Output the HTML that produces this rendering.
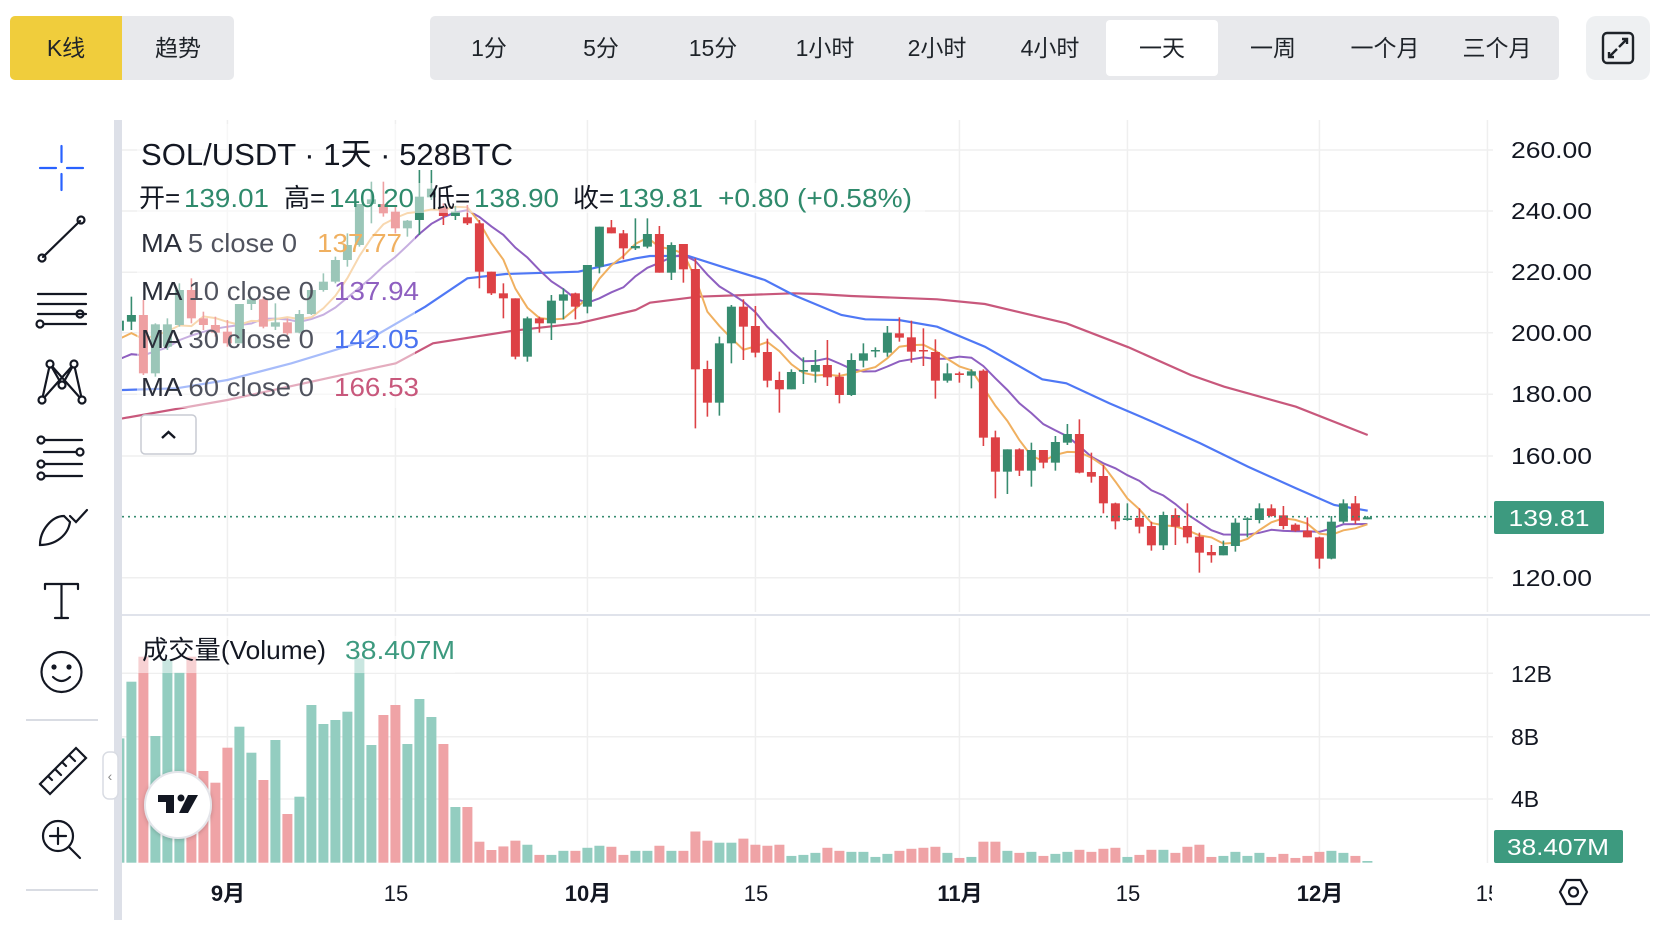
<!DOCTYPE html>
<html><head><meta charset="utf-8">
<style>
html,body{margin:0;padding:0;background:#fff;}
body{width:1666px;height:930px;overflow:hidden;font-family:"Liberation Sans","Noto Sans CJK SC",sans-serif;}
svg text{font-family:"Liberation Sans","Noto Sans CJK SC",sans-serif;}
</style></head>
<body>
<svg id="s" width="1666" height="930" viewBox="0 0 1666 930" xmlns="http://www.w3.org/2000/svg">
<defs>
<clipPath id="cp"><rect x="122" y="120" width="1370" height="493"/></clipPath>
<clipPath id="cv"><rect x="122" y="618" width="1370" height="246"/></clipPath>
<clipPath id="ct"><rect x="0" y="860" width="1492" height="70"/></clipPath>
<filter id="sh" x="-30%" y="-30%" width="160%" height="160%"><feDropShadow dx="0" dy="1" stdDeviation="2" flood-color="#000" flood-opacity="0.2"/></filter>
</defs>
<!-- top bar -->
<rect x="10" y="16" width="224" height="64" rx="5" fill="#e8e9ec"/>
<path d="M15,16 h107 v64 h-107 a5,5 0 0 1 -5,-5 v-54 a5,5 0 0 1 5,-5z" fill="#f0cd3c"/>
<text x="66" y="56" font-size="23" text-anchor="middle" fill="#1e2329">K线</text>
<text x="178" y="56" font-size="23" text-anchor="middle" fill="#1e2329">趋势</text>
<rect x="430" y="16" width="1129" height="64" rx="5" fill="#e8e9ec"/>
<rect x="1106" y="20" width="112" height="56" rx="4" fill="#fff"/>
<g font-size="23" text-anchor="middle" fill="#1e2329">
<text x="489" y="56">1分</text><text x="601" y="56">5分</text><text x="713" y="56">15分</text>
<text x="825" y="56">1小时</text><text x="937" y="56">2小时</text><text x="1050" y="56">4小时</text>
<text x="1162" y="56">一天</text><text x="1273" y="56">一周</text><text x="1385" y="56">一个月</text><text x="1497" y="56">三个月</text>
</g>
<rect x="1586" y="16" width="64" height="64" rx="10" fill="#eef0f2"/>
<rect x="1603" y="33" width="30" height="30" rx="4" fill="none" stroke="#1e2329" stroke-width="2.4"/>
<path d="M1619,47 l8,-8 M1622,39 h5 v5 M1617,49 l-8,8 M1609,52 v5 h5" fill="none" stroke="#1e2329" stroke-width="2.4"/>
<!-- left toolbar -->
<rect x="114" y="120" width="8" height="800" fill="#dde0e8"/>
<g stroke="#131722" stroke-width="2.2" fill="none" stroke-linecap="round">
<g stroke="#2962ff"><path d="M40,168 h16 M67,168 h16 M61.5,146 v16 M61.5,174 v16"/></g>
<path d="M43,257 L80,221"/><circle cx="42" cy="258" r="3.5"/><circle cx="81" cy="220" r="3.5"/>
<path d="M38,294 h48 M38,304 h48 M38,314 h48 M44,324 h42"/><circle cx="40" cy="324" r="3.5"/><circle cx="80" cy="314" r="3.5"/>
<path d="M42,400 L50,364 L62,385 L74,364 L82,400 M42,400 L74,364 M50,364 L82,400"/>
<circle cx="42" cy="400" r="3.5" fill="#fff"/><circle cx="50" cy="364" r="3.5" fill="#fff"/><circle cx="74" cy="364" r="3.5" fill="#fff"/><circle cx="82" cy="400" r="3.5" fill="#fff"/><circle cx="62" cy="385" r="3.5" fill="#fff"/>
<path d="M44,440 h38 M44,452 h38 M44,464 h38 M44,476 h38"/>
<circle cx="41" cy="440" r="3.5" fill="#fff"/><circle cx="41" cy="464" r="3.5" fill="#fff"/><circle cx="41" cy="476" r="3.5" fill="#fff"/><circle cx="80" cy="452" r="3.5" fill="#fff"/>
<path d="M40,545 C40,530 52,516 64,516 L70,522 C68,535 56,545 40,545 Z M70,516 L76,522 L87,510"/>
<path d="M45,584 h33 M61.5,584 v34 M45,584 v5 M78,584 v5 M55,618 h13"/>
<circle cx="61.5" cy="672" r="20"/><circle cx="54" cy="667" r="1.5" fill="#131722"/><circle cx="69" cy="667" r="1.5" fill="#131722"/><path d="M53,677 q8.5,8 17,0"/>
<path d="M40,784 L76,748 L86,758 L50,794 Z M48,776 l4,4 M55,769 l6,6 M62,762 l4,4 M69,755 l6,6"/>
<circle cx="58" cy="836" r="15"/><path d="M69,847 l11,11 M58,828 v16 M50,836 h16"/>
</g>
<rect x="26" y="719" width="72" height="2" fill="#d9dce3"/>
<rect x="26" y="889" width="72" height="2" fill="#d9dce3"/>
<rect x="103" y="752" width="15" height="47" rx="6" fill="#fff" stroke="#d9dce3" stroke-width="1.5"/>
<text x="110" y="781" font-size="14" text-anchor="middle" fill="#888">‹</text>
<!-- grids -->
<g id="grid" stroke="#efefef" stroke-width="1.5"></g>
<line x1="122" y1="615" x2="1650" y2="615" stroke="#e0e3eb" stroke-width="2"/>
<g id="vol" clip-path="url(#cv)"></g>
<g id="main" clip-path="url(#cp)"></g>
<!-- legend fade overlays -->
<rect x="137" y="124" width="278" height="284" fill="#fff" opacity="0.5"/>
<rect x="415" y="183" width="510" height="30" fill="#fff" opacity="0.5"/>
<rect x="137" y="636" width="318" height="37" fill="#fff" opacity="0.5"/>
<line x1="122" y1="516.7" x2="1494" y2="516.7" stroke="#378c70" stroke-width="1.6" stroke-dasharray="2,4"/>
<!-- legend text -->
<text x="141" y="165" font-size="31" fill="#131722" textLength="372" lengthAdjust="spacingAndGlyphs">SOL/USDT · 1天 · 528BTC</text>
<g font-size="26">
<text x="139" y="207" fill="#131722">开=</text><text x="184" y="207" fill="#2f8a6c" textLength="85" lengthAdjust="spacingAndGlyphs">139.01</text>
<text x="284" y="207" fill="#131722">高=</text><text x="329" y="207" fill="#2f8a6c" textLength="85" lengthAdjust="spacingAndGlyphs">140.20</text>
<text x="429" y="207" fill="#131722">低=</text><text x="474" y="207" fill="#2f8a6c" textLength="85" lengthAdjust="spacingAndGlyphs">138.90</text>
<text x="573" y="207" fill="#131722">收=</text><text x="618" y="207" fill="#2f8a6c" textLength="85" lengthAdjust="spacingAndGlyphs">139.81</text>
<text x="718" y="207" fill="#2f8a6c" textLength="194" lengthAdjust="spacingAndGlyphs">+0.80 (+0.58%)</text>
<text x="141" y="252" fill="#2a2e39" textLength="156" lengthAdjust="spacingAndGlyphs">MA <tspan fill="#50535e">5 close 0</tspan></text><text x="317" y="252" fill="#f0b060" textLength="85" lengthAdjust="spacingAndGlyphs">137.77</text>
<text x="141" y="300" fill="#2a2e39" textLength="173" lengthAdjust="spacingAndGlyphs">MA <tspan fill="#50535e">10 close 0</tspan></text><text x="334" y="300" fill="#8e5fc0" textLength="85" lengthAdjust="spacingAndGlyphs">137.94</text>
<text x="141" y="348" fill="#2a2e39" textLength="173" lengthAdjust="spacingAndGlyphs">MA <tspan fill="#50535e">30 close 0</tspan></text><text x="334" y="348" fill="#4a73f0" textLength="85" lengthAdjust="spacingAndGlyphs">142.05</text>
<text x="141" y="396" fill="#2a2e39" textLength="173" lengthAdjust="spacingAndGlyphs">MA <tspan fill="#50535e">60 close 0</tspan></text><text x="334" y="396" fill="#c8587c" textLength="85" lengthAdjust="spacingAndGlyphs">166.53</text>
<text x="142" y="659" fill="#131722" textLength="184" lengthAdjust="spacingAndGlyphs">成交量(Volume)</text><text x="345" y="659" fill="#3d9a7f" textLength="110" lengthAdjust="spacingAndGlyphs">38.407M</text>
</g>
<rect x="141" y="415" width="55" height="39" rx="4" fill="#fff" stroke="#c8cbd3" stroke-width="1.5"/>
<path d="M162,438 l6.5,-6 l6.5,6" fill="none" stroke="#131722" stroke-width="2.4"/>
<!-- TV logo -->
<circle cx="178" cy="805" r="33" fill="#fff" stroke="#e4e5ea" stroke-width="2" filter="url(#sh)"/>
<path d="M158,795 h16 v18 h-8 v-11 h-8z M188,795 h10 l-10,18 h-9z" fill="#131722"/><circle cx="181" cy="798" r="3.5" fill="#131722"/>
<!-- axes labels -->
<g font-size="23" fill="#131722">
<text x="1511" y="158" textLength="81" lengthAdjust="spacingAndGlyphs">260.00</text><text x="1511" y="219" textLength="81" lengthAdjust="spacingAndGlyphs">240.00</text><text x="1511" y="280" textLength="81" lengthAdjust="spacingAndGlyphs">220.00</text>
<text x="1511" y="341" textLength="81" lengthAdjust="spacingAndGlyphs">200.00</text><text x="1511" y="402" textLength="81" lengthAdjust="spacingAndGlyphs">180.00</text><text x="1511" y="464" textLength="81" lengthAdjust="spacingAndGlyphs">160.00</text><text x="1511" y="586" textLength="81" lengthAdjust="spacingAndGlyphs">120.00</text>
<text x="1511" y="682">12B</text><text x="1511" y="745">8B</text><text x="1511" y="807">4B</text>
</g>
<rect x="1494" y="501" width="110" height="33" rx="2" fill="#3d9a7f"/>
<text x="1549" y="526" font-size="23" fill="#fff" text-anchor="middle" textLength="81" lengthAdjust="spacingAndGlyphs">139.81</text>
<rect x="1494" y="830" width="129" height="33" rx="2" fill="#3d9a7f"/>
<text x="1558" y="855" font-size="23" fill="#fff" text-anchor="middle" textLength="102" lengthAdjust="spacingAndGlyphs">38.407M</text>
<g font-size="22" fill="#131722" text-anchor="middle" clip-path="url(#ct)">
<text x="228" y="901" font-weight="bold">9月</text><text x="396" y="901">15</text>
<text x="588" y="901" font-weight="bold">10月</text><text x="756" y="901">15</text>
<text x="960" y="901" font-weight="bold">11月</text><text x="1128" y="901">15</text>
<text x="1320" y="901" font-weight="bold">12月</text><text x="1488" y="901">15</text>
</g>
<path d="M1560,892 l6.5,-12 h14 l6.5,12 l-6.5,12 h-14z" fill="none" stroke="#131722" stroke-width="2.2"/>
<circle cx="1573.5" cy="892" r="4.5" fill="none" stroke="#131722" stroke-width="2.2"/>
</svg>
<script>
var NS="http://www.w3.org/2000/svg";
function el(p,t,a){var e=document.createElementNS(NS,t);for(var k in a)e.setAttribute(k,a[k]);p.appendChild(e);return e;}
var D=[[632,662,620,665,1],[615,635,560,660,1],[615,790,570,795,0],[643,790,640,800,1],[643,710,625,720,1],[540,645,520,650,1],[540,625,505,640,0],[625,645,605,660,0],[645,668,620,680,0],
[665,700,630,710,0],[582,700,582,700,1],[568,582,560,600,1],[568,650,560,655,0],[637,650,580,660,1],[637,670,625,675,0],[612,668,600,670,1],[540,612,540,615,1],[515,540,490,545,1],[450,515,440,520,1],
[405,450,370,470,1],[282,405,282,410,1],[268,282,215,340,1],[282,310,215,320,0],[305,355,290,370,0],[332,355,330,380,1],[260,330,180,375,1],[236,262,180,270,1],[290,318,280,345,0],[305,318,288,330,1],
[322,340,285,345,0],[340,485,330,535,0],[485,550,485,555,0],[550,565,520,625,0],[565,740,565,748,0],[625,740,620,755,1],[625,640,620,668,0],[572,640,555,690,1],[553,572,535,628,1],[550,590,548,628,0],
[465,590,465,610,1],[350,470,350,490,1],[352,370,330,370,0],[370,415,360,448,0],[408,415,325,420,1],[372,410,325,415,1],
[372,488,348,488,0],[405,488,397,510,1],[402,478,402,518,0],[477,778,445,955,0],[777,878,752,920,0],[700,878,680,917,1],[590,700,585,760,1],[590,650,568,750,0],[648,728,588,742,0],[726,812,686,832,0],
[810,838,785,908,0],[786,838,778,838,1],[780,785,742,822,1],[765,785,720,818,1],[765,802,690,828,0],[800,855,788,880,0],[750,855,730,858,1],[730,752,700,772,1],[720,724,712,742,1],[668,728,648,740,1],
[670,683,622,695,0],[682,725,632,758,0],[720,724,655,768,0],[726,812,688,866,0],[790,812,760,818,1],[790,795,785,818,0],[784,797,778,835,1],[782,983,778,1008,0],[982,1085,962,1165,0],[1018,1085,1018,1152,1],
[1018,1082,1015,1098,0],[1020,1082,998,1130,1],[1020,1058,1020,1075,0],[996,1058,978,1082,1],[972,998,942,1005,1],[972,1088,928,1090,0],[1086,1100,1028,1118,0],[1098,1180,1065,1210,0],[1180,1234,1178,1258,0],[1225,1230,1180,1232,1],
[1224,1250,1195,1270,0],[1248,1306,1235,1322,0],[1215,1306,1205,1320,1],[1215,1250,1195,1305,0],[1248,1282,1180,1300,0],[1280,1328,1268,1388,0],[1326,1336,1305,1358,0],[1308,1336,1292,1336,1],[1238,1308,1225,1325,1],[1225,1230,1222,1282,1],
[1195,1230,1180,1240,1],[1195,1218,1183,1220,0],[1216,1248,1188,1258,0],[1244,1262,1240,1265,0],[1262,1282,1222,1282,0],[1282,1346,1280,1376,0],[1235,1346,1218,1348,1],[1180,1235,1168,1240,1],[1180,1232,1158,1242,0],[1222,1228,1218,1228,1]];
function X(i){return 227.4+12*(i-9);}
function Y(z){return 110+z/3;}
var grid=document.getElementById('grid');
[150,211,272.3,332.7,394.3,456,577.7,673.3,736.7,799].forEach(function(y){el(grid,'line',{x1:122,y1:y,x2:1493,y2:y});});
[227.4,395.4,587.4,755.4,959.4,1127.4,1319.4,1487.4].forEach(function(x){el(grid,'line',{x1:x,y1:120,x2:x,y2:612});el(grid,'line',{x1:x,y1:618,x2:x,y2:863});});
var v1=[124.3,181,206,126.7,203.3,190,206,91.7,80,115,136,110,82.7,122.7,48.7,66,157.7,138.7,142.7,151,204.3,117.7,147.7,157.7,118.7,163.7,145.7,118.7,55.7,55.7,21,12.7];
var t2=[200,183,195,225,225,213,213,204,198,201,225,213,213,198,213,213,156,183,189,189,177,195,198,195,228,225,219,204,213,216,216,231,222,213,207,204,201,219,234,231,186,186,213,219,216,228,222,216,210,216,207,204,231,225,210,210,219,201,195,231,228,216,228,219,231,222,234,228,216,213,219,228,243];
var V=v1.concat(t2.map(function(t){return (248-t)/2.95;}));
var vol=document.getElementById('vol');
V.forEach(function(h,i){el(vol,'rect',{x:X(i)-5,y:862.7-h,width:10,height:h,fill:D[i][4]?'#93cdc0':'#efa3a6'});});
var main=document.getElementById('main');
function pts(a){return a.map(function(p){return p[0].toFixed(1)+','+p[1].toFixed(1);}).join(' ');}
function z3(a){return a.map(function(p){return [100+p[0]/2.613,Y(p[1])];});}
function z4(a){return a.map(function(p){return [650+p[0]/2.09,Y(p[1])];});}
var ma60=z3([[0,935],[60,925],[333,870],[773,760],[870,700],[1080,662],[1250,640],[1400,600]]).concat(z4([[0,578],[100,560],[300,550],[350,552],[420,558],[600,568],[700,582],[870,640],[1000,712],[1130,795],[1200,830],[1350,890],[1500,975]]));
var ma30=z3([[0,845],[60,840],[200,835],[333,810],[500,760],[700,690],[850,590],[960,505],[1060,492],[1250,485],[1400,445]]).concat(z4([[0,438],[80,438],[150,470],[240,510],[300,555],[400,615],[450,628],[520,630],[600,650],[700,710],[820,808],[870,820],[960,880],[1050,935],[1150,1000],[1250,1070],[1350,1135],[1430,1185],[1500,1202]]));
el(main,'polyline',{points:pts(ma60),fill:'none',stroke:'#c8587c','stroke-width':2.2});
el(main,'polyline',{points:pts(ma30),fill:'none',stroke:'#4f78f5','stroke-width':2.2});
var C=D.map(function(d){return d[4]?d[0]:d[1];});
function ma(n,pre){var r=[];for(var i=0;i<C.length;i++){var s=0,c=0;for(var j=Math.max(0,i-n+1);j<=i;j++){s+=C[j];c++;}var v=s/c;if(i<n-1)v=(s+pre*(n-c))/n;r.push([X(i),Y(v)]);}return r;}
el(main,'polyline',{points:pts(ma(10,760)),fill:'none',stroke:'#8e5fc0','stroke-width':2});
el(main,'polyline',{points:pts(ma(5,700)),fill:'none',stroke:'#f0b060','stroke-width':2});
D.forEach(function(d,i){var c=d[4]?'#378c70':'#dd4145';var x=X(i);
el(main,'line',{x1:x,y1:Y(d[2]),x2:x,y2:Y(d[3]),stroke:c,'stroke-width':1.6});
el(main,'rect',{x:x-4.5,y:Y(d[0]),width:9,height:Math.max(1.5,(d[1]-d[0])/3),fill:c});});
</script>
</body></html>
